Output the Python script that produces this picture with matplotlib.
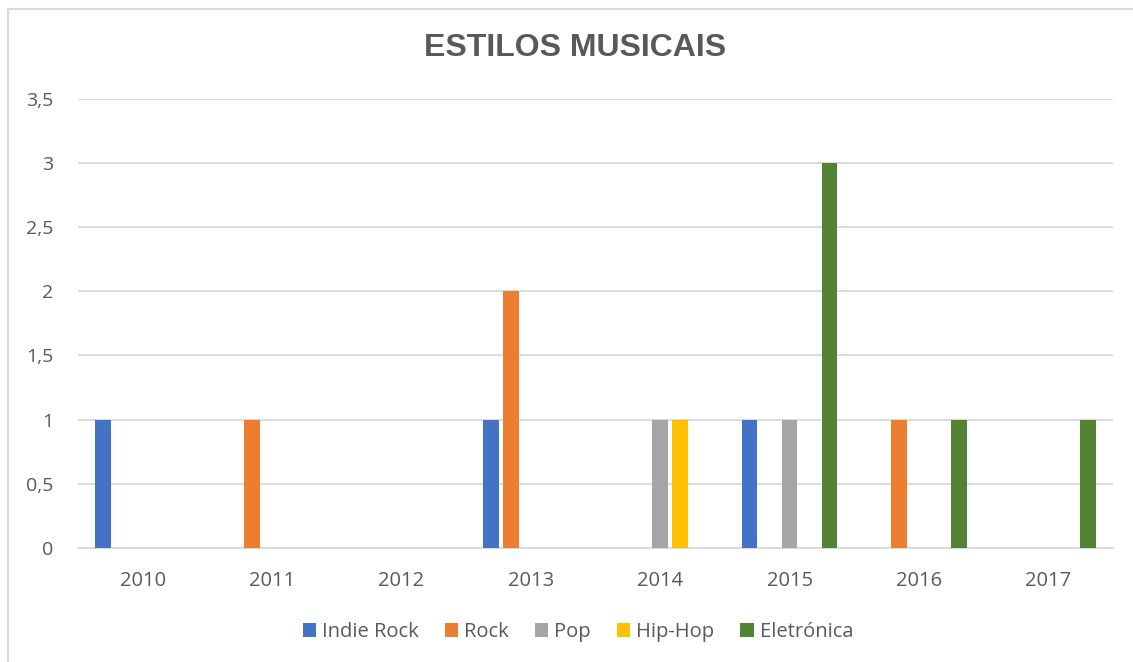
import matplotlib
matplotlib.use("Agg")
import matplotlib.pyplot as plt
from matplotlib.patches import Patch
from matplotlib.lines import Line2D
import numpy as np

years = ["2010", "2011", "2012", "2013", "2014", "2015", "2016", "2017"]
series_names = ["Indie Rock", "Rock", "Pop", "Hip-Hop", "Eletrónica"]
indie_rock = [1, 0, 0, 1, 0, 1, 0, 0]
rock = [0, 1, 0, 2, 0, 0, 1, 0]
pop = [0, 0, 0, 0, 1, 1, 0, 0]
hip_hop = [0, 0, 0, 0, 1, 0, 0, 0]
eletronica = [0, 0, 0, 0, 0, 3, 1, 1]
colors = ["#4472C4", "#ED7D31", "#A5A5A5", "#FFC000", "#548235"]
yticks = [0, 0.5, 1, 1.5, 2, 2.5, 3, 3.5]
ytick_labels = ["0", "0,5", "1", "1,5", "2", "2,5", "3", "3,5"]

all_series = [indie_rock, rock, pop, hip_hop, eletronica]

font = "Open Sans"
text_color = "#595959"

fig = plt.figure(figsize=(11.33, 6.62), dpi=100)
ax = fig.add_axes([78/1133, 1 - 547.7/662, (1113-78)/1133, (547.7-99)/662])

x = np.arange(len(years))
spacing = 0.1546
width = 0.121
for i, (vals, name, c) in enumerate(zip(all_series, series_names, colors)):
    ax.bar(x + (i - 2) * spacing, vals, width=width, color=c, label=name,
           linewidth=0, zorder=3)

ax.set_xlim(-0.5, len(years) - 0.5)
ax.set_ylim(0, 3.5)
ax.set_yticks(yticks)
ax.set_yticklabels(ytick_labels, fontfamily=font, fontsize=14, color=text_color)
ax.set_xticks(x)
ax.set_xticklabels(years, fontfamily=font, fontsize=14.5, color=text_color)
ax.tick_params(axis="y", length=0, pad=18)
ax.tick_params(axis="x", length=0, pad=17)
ax.grid(axis="y", color="#D9D9D9", linewidth=1.3, zorder=0)
for s in ["top", "right", "left"]:
    ax.spines[s].set_visible(False)
ax.spines["bottom"].set_color("#D9D9D9")
ax.spines["bottom"].set_linewidth(1.3)
ax.spines["bottom"].set_zorder(1)

fig.text(575/1133, 1 - 48/662, "ESTILOS MUSICAIS", ha="center", va="center",
         fontfamily="Liberation Sans", fontweight="bold", fontsize=23, color=text_color)

handles = [Patch(facecolor=c, edgecolor="none") for c in colors]
leg = fig.legend(handles, series_names, loc="center", bbox_to_anchor=(578/1133, 1 - 632/662),
                 ncol=5, frameon=False, prop={"family": font, "size": 14.5},
                 handlelength=0.65, handleheight=0.65, handletextpad=0.3, columnspacing=1.3,
                 labelcolor=text_color)

# chart border (top and left visible)
fig.add_artist(Line2D([8/1133, 1], [1 - 9/662, 1 - 9/662], transform=fig.transFigure,
                      color="#D9D9D9", linewidth=1.5))
fig.add_artist(Line2D([8/1133, 8/1133], [0, 1 - 9/662], transform=fig.transFigure,
                      color="#D9D9D9", linewidth=1.5))

fig.savefig("out.png", dpi=100)
